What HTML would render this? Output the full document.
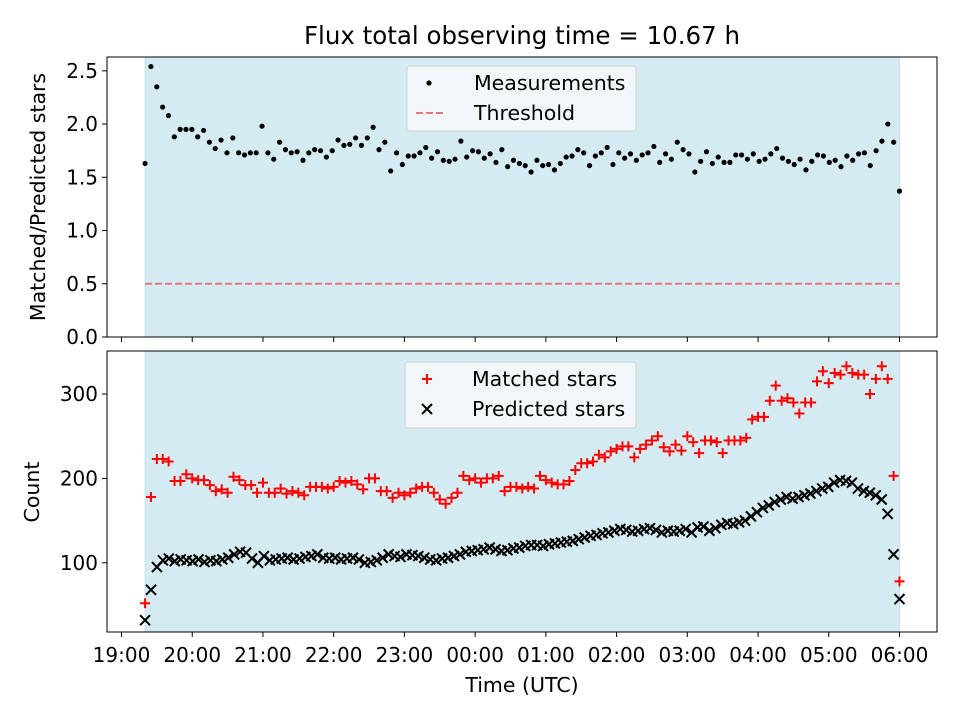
<!DOCTYPE html>
<html><head><meta charset="utf-8">
<style>
body{margin:0;background:#fff;}
svg{display:block;font-family:"DejaVu Sans","Liberation Sans",sans-serif;}
</style></head>
<body>
<svg id="chart" width="960" height="720" viewBox="0 0 960 720">
<text x="522" y="44" font-size="24.5" text-anchor="middle">Flux total observing time = 10.67 h</text>
<g id="top"></g>
<g id="bot"></g>
</svg>
<script>
const ratioValues=[1.63,2.54,2.35,2.16,2.08,1.88,1.95,1.95,1.95,1.88,1.94,1.83,1.77,1.85,1.73,1.87,1.73,1.71,1.73,1.73,1.98,1.73,1.67,1.83,1.76,1.73,1.74,1.66,1.73,1.76,1.75,1.69,1.75,1.85,1.80,1.81,1.87,1.80,1.87,1.97,1.76,1.83,1.56,1.73,1.62,1.70,1.70,1.73,1.78,1.68,1.74,1.66,1.65,1.67,1.84,1.69,1.75,1.74,1.68,1.72,1.64,1.76,1.60,1.66,1.63,1.61,1.55,1.66,1.61,1.62,1.57,1.63,1.69,1.70,1.76,1.73,1.61,1.70,1.73,1.78,1.62,1.73,1.68,1.72,1.66,1.71,1.73,1.79,1.64,1.72,1.67,1.83,1.76,1.72,1.55,1.65,1.74,1.63,1.69,1.64,1.64,1.71,1.71,1.67,1.72,1.65,1.67,1.72,1.77,1.68,1.65,1.62,1.67,1.57,1.65,1.71,1.70,1.64,1.66,1.60,1.70,1.66,1.72,1.73,1.61,1.75,1.84,2.00,1.83,1.37];
const matchedValues=[52,178,223,223,220,197,197,205,200,198,198,192,185,187,183,202,198,192,192,183,195,183,183,188,182,185,183,180,190,190,190,188,190,197,195,197,193,187,200,200,185,185,177,183,180,183,188,190,190,183,175,170,177,183,203,198,200,195,200,200,203,185,190,190,188,190,188,203,198,195,193,193,197,210,218,218,220,228,225,232,235,238,238,225,235,240,245,250,237,232,240,233,250,243,230,245,245,243,230,245,245,245,248,270,273,273,292,310,292,295,290,277,290,290,315,327,313,325,323,333,325,323,323,300,318,333,318,203,78];
const predictedValues=[32,68,95,103,105,102,104,103,102,104,101,103,102,104,106,110,113,112,105,100,108,103,104,105,106,104,105,107,108,110,106,105,106,104,105,106,104,100,101,103,106,110,108,107,110,109,108,106,104,103,105,106,108,110,113,114,115,116,118,116,114,115,117,118,120,121,121,120,122,123,124,125,126,128,130,132,133,135,136,138,140,139,137,138,140,141,139,136,138,137,138,140,136,142,143,138,141,145,147,146,148,150,155,160,165,168,172,175,178,176,178,180,182,185,188,190,195,198,197,195,188,185,183,180,175,158,110,57];
const xTickLabels=["19:00","20:00","21:00","22:00","23:00","00:00","01:00","02:00","03:00","04:00","05:00","06:00"];
const topTicks=[0.0,0.5,1.0,1.5,2.0,2.5];
const botTicks=[100,200,300];
const threshold=0.5;
const startMin=20, endMin=660; // minutes after 19:00

const NS="http://www.w3.org/2000/svg";
function mk(tag,attrs,parent){const e=document.createElementNS(NS,tag);for(const k in attrs)e.setAttribute(k,attrs[k]);parent.appendChild(e);return e;}
const L=107,R=937;
const xs=m=>121.5+m*(899.5-121.5)/660;
const timeOf=(i,n)=>startMin+i*(endMin-startMin)/(n-1);

function panel(g,top,bottom,ymin,ymax){
  const ys=v=>bottom-(v-ymin)*(bottom-top)/(ymax-ymin);
  const s=mk('rect',{x:xs(startMin),y:top,width:xs(endMin)-xs(startMin),height:bottom-top,fill:'#d5ebf2',stroke:'#c3e1ea'},g);
  
  return ys;
}
const gt=document.getElementById('top'),gb=document.getElementById('bot');
const T0=57,T1=337,B0=351,B1=632;
const ysT=panel(gt,T0,T1,0,2.63);
const ysB=panel(gb,B0,B1,18,351);

let th=mk('line',{x1:xs(startMin),x2:xs(endMin),y1:ysT(threshold),y2:ysT(threshold),stroke:'#e8747c','stroke-width':2,'stroke-dasharray':'7,3'},gt);

ratioValues.forEach((v,i)=>{const c=mk('circle',{cx:xs(timeOf(i,ratioValues.length)),cy:ysT(v),r:2.6,fill:'#000'},gt);
});
matchedValues.forEach((v,i)=>{const x=xs(timeOf(i,matchedValues.length)),y=ysB(v);
const p=mk('path',{d:`M${x-5} ${y}H${x+5}M${x} ${y-5}V${y+5}`,stroke:'#f00','stroke-width':2},gb);
});
predictedValues.forEach((v,i)=>{const x=xs(timeOf(i,predictedValues.length)),y=ysB(v);
const p=mk('path',{d:`M${x-5} ${y-5}L${x+5} ${y+5}M${x-5} ${y+5}L${x+5} ${y-5}`,stroke:'#000','stroke-width':2},gb);
});

[[gt,T0,T1],[gb,B0,B1]].forEach(([g,a,b],k)=>{
  const f=mk('rect',{x:L,y:a,width:R-L,height:b-a,fill:'none',stroke:'#000','stroke-width':1},g);
  
  xTickLabels.forEach((lab,i)=>{const x=xs(i*60);mk('line',{x1:x,x2:x,y1:b,y2:b+5,stroke:'#000'},g);
    if(k===1){const t=mk('text',{x:x,y:b+30,'font-size':20,'text-anchor':'middle'},g);t.textContent=lab;
    }});
});
topTicks.forEach(v=>{const y=ysT(v);mk('line',{x1:L-5,x2:L,y1:y,y2:y,stroke:'#000'},gt);
 const t=mk('text',{x:L-9,y:y+7,'font-size':20,'text-anchor':'end'},gt);t.textContent=v.toFixed(1);
 });
botTicks.forEach(v=>{const y=ysB(v);mk('line',{x1:L-5,x2:L,y1:y,y2:y,stroke:'#000'},gb);
 const t=mk('text',{x:L-9,y:y+7,'font-size':20,'text-anchor':'end'},gb);t.textContent=v;
 });

function label(g,txt,x,y,rot,name){const t=mk('text',{x:x,y:y,'font-size':20.5,'text-anchor':'middle',transform:rot?`rotate(-90 ${x} ${y})`:''},g);t.textContent=txt;
 }
label(gt,'Matched/Predicted stars',45,197,true,'y-axis-title-ratio');
label(gb,'Count',39,492,true,'y-axis-title-count');
label(gb,'Time (UTC)',522,692,false,'x-axis-title');

function legend(g,x,y,w,h,entries){
  const lg=mk('g',{},g);
  mk('rect',{x:x,y:y,width:w,height:h,rx:3,fill:'#f7fafc','fill-opacity':0.85,stroke:'#d0d0d0'},lg);
  entries.forEach((e,i)=>{const cy=y+17+i*30;e.draw(lg,x+22,cy);
   const t=mk('text',{x:x+67,y:cy+7,'font-size':20.5},lg);t.textContent=e.text;
   });
}
legend(gt,407,66,229,65,[
 {text:'Measurements',draw:(g,x,y)=>mk('circle',{cx:x,cy:y,r:2.6,fill:'#000'},g)},
 {text:'Threshold',draw:(g,x,y)=>mk('line',{x1:x-13,x2:x+17,y1:y,y2:y,stroke:'#e8747c','stroke-width':2,'stroke-dasharray':'7,3'},g)}]);
legend(gb,405,362,231,66,[
 {text:'Matched stars',draw:(g,x,y)=>mk('path',{d:`M${x-5} ${y}H${x+5}M${x} ${y-5}V${y+5}`,stroke:'#f00','stroke-width':2},g)},
 {text:'Predicted stars',draw:(g,x,y)=>mk('path',{d:`M${x-5} ${y-5}L${x+5} ${y+5}M${x-5} ${y+5}L${x+5} ${y-5}`,stroke:'#000','stroke-width':2},g)}]);
</script>
</body></html>
